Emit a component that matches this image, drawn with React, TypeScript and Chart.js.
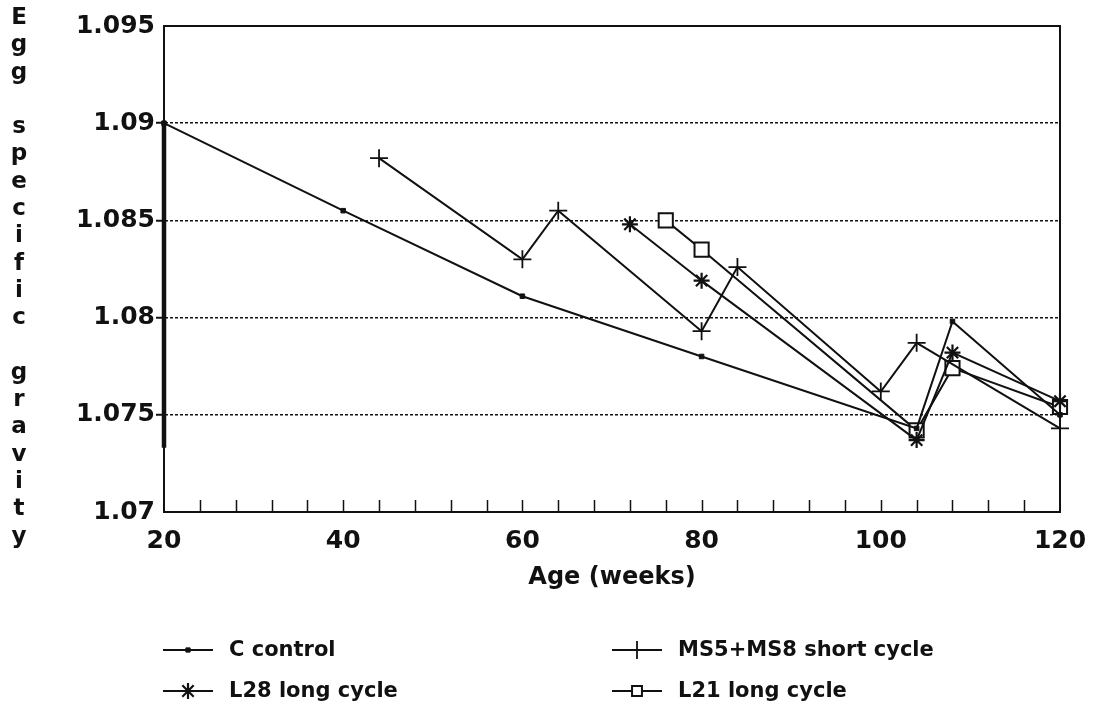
import React, { useEffect, useRef } from 'react';
import { Chart, registerables } from 'chart.js';
import { drawPoint } from 'chart.js/helpers';

Chart.register(...registerables);

// ---- data ----
const controlWeeks = [20, 40, 60, 80, 104, 108, 120];
const controlValues = [1.09, 1.0855, 1.0811, 1.078, 1.0743, 1.0798, 1.075];

const shortWeeks = [44, 60, 64, 80, 84, 100, 104, 120];
const shortValues = [1.0882, 1.083, 1.0855, 1.0793, 1.0826, 1.0762, 1.0787, 1.0743];

const l28Weeks = [72, 80, 104, 108, 120];
const l28Values = [1.0848, 1.0819, 1.0737, 1.0782, 1.0757];

const l21Weeks = [76, 80, 104, 108, 120];
const l21Values = [1.085, 1.0835, 1.0742, 1.0774, 1.0754];

// thick segment on the left axis at week 20
const axisBarWeeks = [20, 20];
const axisBarValues = [1.09, 1.0733];

const seriesLabels = ['C control', 'MS5+MS8 short cycle', 'L28 long cycle', 'L21 long cycle'];
const seriesWeeks = [controlWeeks, shortWeeks, l28Weeks, l21Weeks];
const seriesValues = [controlValues, shortValues, l28Values, l21Values];

const xTickWeeks = [20, 24, 28, 32, 36, 40, 44, 48, 52, 56, 60, 64, 68, 72, 76, 80, 84, 88, 92, 96, 100, 104, 108, 112, 116, 120];
const xTickLabels = [20, 40, 60, 80, 100, 120];
const yTickValues = [1.07, 1.075, 1.08, 1.085, 1.09, 1.095];
const xTitle = 'Age (weeks)';
const yTitle = 'Egg specific gravity';

// ---- styles ----
const FAMILY = '"DejaVu Sans", "Liberation Sans", sans-serif';
const INK = '#111111';

const seriesStyles = [
  { pointStyle: 'rect', radius: 3.2, bg: INK, bw: 1, legendRadius: 3 },
  { pointStyle: 'cross', radius: 9, bg: INK, bw: 1.8, legendRadius: 9 },
  { pointStyle: 'star', radius: 8, bg: INK, bw: 2.2, legendRadius: 8 },
  { pointStyle: 'rect', radius: 10, bg: '#ffffff', bw: 2, legendRadius: 7 },
];

const legendCols = [163, 612];
const legendRows = [650, 691];

const decorPlugin = {
  id: 'decor',
  afterDraw(chart: any) {
    const { ctx, chartArea: a } = chart;
    const xs = chart.scales.x;
    ctx.save();
    // frame
    ctx.strokeStyle = INK;
    ctx.lineWidth = 2;
    ctx.strokeRect(a.left, a.top, a.right - a.left, a.bottom - a.top);
    // inward minor ticks on x axis
    ctx.lineWidth = 1.5;
    ctx.beginPath();
    xs.ticks.forEach((t: any) => {
      if (t.value <= xs.min || t.value >= xs.max) return;
      const px = Math.round(xs.getPixelForValue(t.value)) + 0.5;
      ctx.moveTo(px, a.bottom);
      ctx.lineTo(px, a.bottom - 12);
    });
    ctx.stroke();

    // x title
    ctx.fillStyle = INK;
    ctx.font = `bold 24px ${FAMILY}`;
    ctx.textAlign = 'center';
    ctx.textBaseline = 'middle';
    ctx.fillText(xTitle, (a.left + a.right) / 2, 578);

    // y title, one letter per line
    ctx.font = `bold 23px ${FAMILY}`;
    const letters = yTitle.split('');
    letters.forEach((ch, i) => {
      if (ch !== ' ') ctx.fillText(ch, 19, 18 + i * 27.3);
    });

    // legend
    ctx.font = `bold 21px ${FAMILY}`;
    ctx.textAlign = 'left';
    seriesLabels.forEach((label, i) => {
      const st = seriesStyles[i];
      const x0 = legendCols[i % 2];
      const y = legendRows[Math.floor(i / 2)];
      ctx.strokeStyle = INK;
      ctx.lineWidth = 2;
      ctx.beginPath();
      ctx.moveTo(x0, y);
      ctx.lineTo(x0 + 50, y);
      ctx.stroke();
      ctx.fillStyle = st.bg;
      ctx.strokeStyle = INK;
      ctx.lineWidth = st.bw;
      drawPoint(ctx, { pointStyle: st.pointStyle as any, radius: st.legendRadius, rotation: 0, borderWidth: st.bw }, x0 + 25, y);
      ctx.fillStyle = INK;
      ctx.fillText(label, x0 + 66, y + 1);
    });
    ctx.restore();
  },
};

export default function App() {
  const ref = useRef<HTMLCanvasElement | null>(null);

  useEffect(() => {
    if (!ref.current) return;
    const datasets: any[] = seriesLabels.map((label, i) => {
      const st = seriesStyles[i];
      return {
        label,
        data: seriesWeeks[i].map((w, j) => ({ x: w, y: seriesValues[i][j] })),
        borderColor: INK,
        borderWidth: 2,
        tension: 0,
        fill: false,
        clip: false,
        pointStyle: st.pointStyle,
        pointRadius: st.radius,
        pointBackgroundColor: st.bg,
        pointBorderColor: INK,
        pointBorderWidth: st.bw,
        order: i,
      };
    });
    datasets.push({
      label: '',
      data: axisBarWeeks.map((w, j) => ({ x: w, y: axisBarValues[j] })),
      borderColor: INK,
      borderWidth: 4.5,
      pointRadius: 0,
      fill: false,
      clip: false,
      order: 10,
    });

    const font = { family: FAMILY, size: 25, weight: 'bold' as const };
    const isEdge = (v: number) => Math.abs(v - 1.07) < 1e-6 || Math.abs(v - 1.095) < 1e-6;

    const chart = new Chart(ref.current, {
      type: 'line',
      data: { datasets },
      options: {
        animation: false,
        responsive: false,
        devicePixelRatio: 1,
        layout: { padding: { left: 0, right: 34, top: 26, bottom: 0 } },
        plugins: { legend: { display: false }, tooltip: { enabled: false } },
        scales: {
          x: {
            type: 'linear',
            min: 20,
            max: 120,
            afterFit: (s: any) => { s.height = 196; s.paddingLeft = 0; s.paddingRight = 0; },
            afterBuildTicks: (s: any) => { s.ticks = xTickWeeks.map((v) => ({ value: v })); },
            ticks: {
              autoSkip: false,
              maxRotation: 0,
              padding: 6,
              color: INK,
              font,
              callback: (v: any) => (xTickLabels.includes(Number(v)) ? String(v) : ''),
            },
            grid: { display: false },
            border: { display: true, color: INK, width: 2 },
          },
          y: {
            type: 'linear',
            min: 1.07,
            max: 1.095,
            afterFit: (s: any) => { s.width = 164; s.paddingTop = 0; s.paddingBottom = 0; },
            afterBuildTicks: (s: any) => { s.ticks = yTickValues.map((v) => ({ value: v })); },
            ticks: {
              padding: 1,
              color: INK,
              font,
              callback: (v: any) => Number(v).toFixed(3).replace(/0+$/, ''),
            },
            grid: {
              color: (c: any) => (c.tick && isEdge(c.tick.value) ? 'rgba(0,0,0,0)' : INK),
              tickColor: (c: any) => (c.tick && isEdge(c.tick.value) ? 'rgba(0,0,0,0)' : INK),
              lineWidth: 1.5,
              tickLength: 8,
              tickWidth: 2,
            },
            border: { display: true, color: INK, width: 2, dash: [3, 2] },
          },
        },
      },
      plugins: [decorPlugin],
    });
    return () => chart.destroy();
  }, []);

  return (
    <div style={{ position: 'fixed', left: 0, top: 0, width: 1094, height: 708, background: '#fff' }}>
      <canvas ref={ref} width={1094} height={708} style={{ display: 'block', width: 1094, height: 708 }} />
    </div>
  );
}
